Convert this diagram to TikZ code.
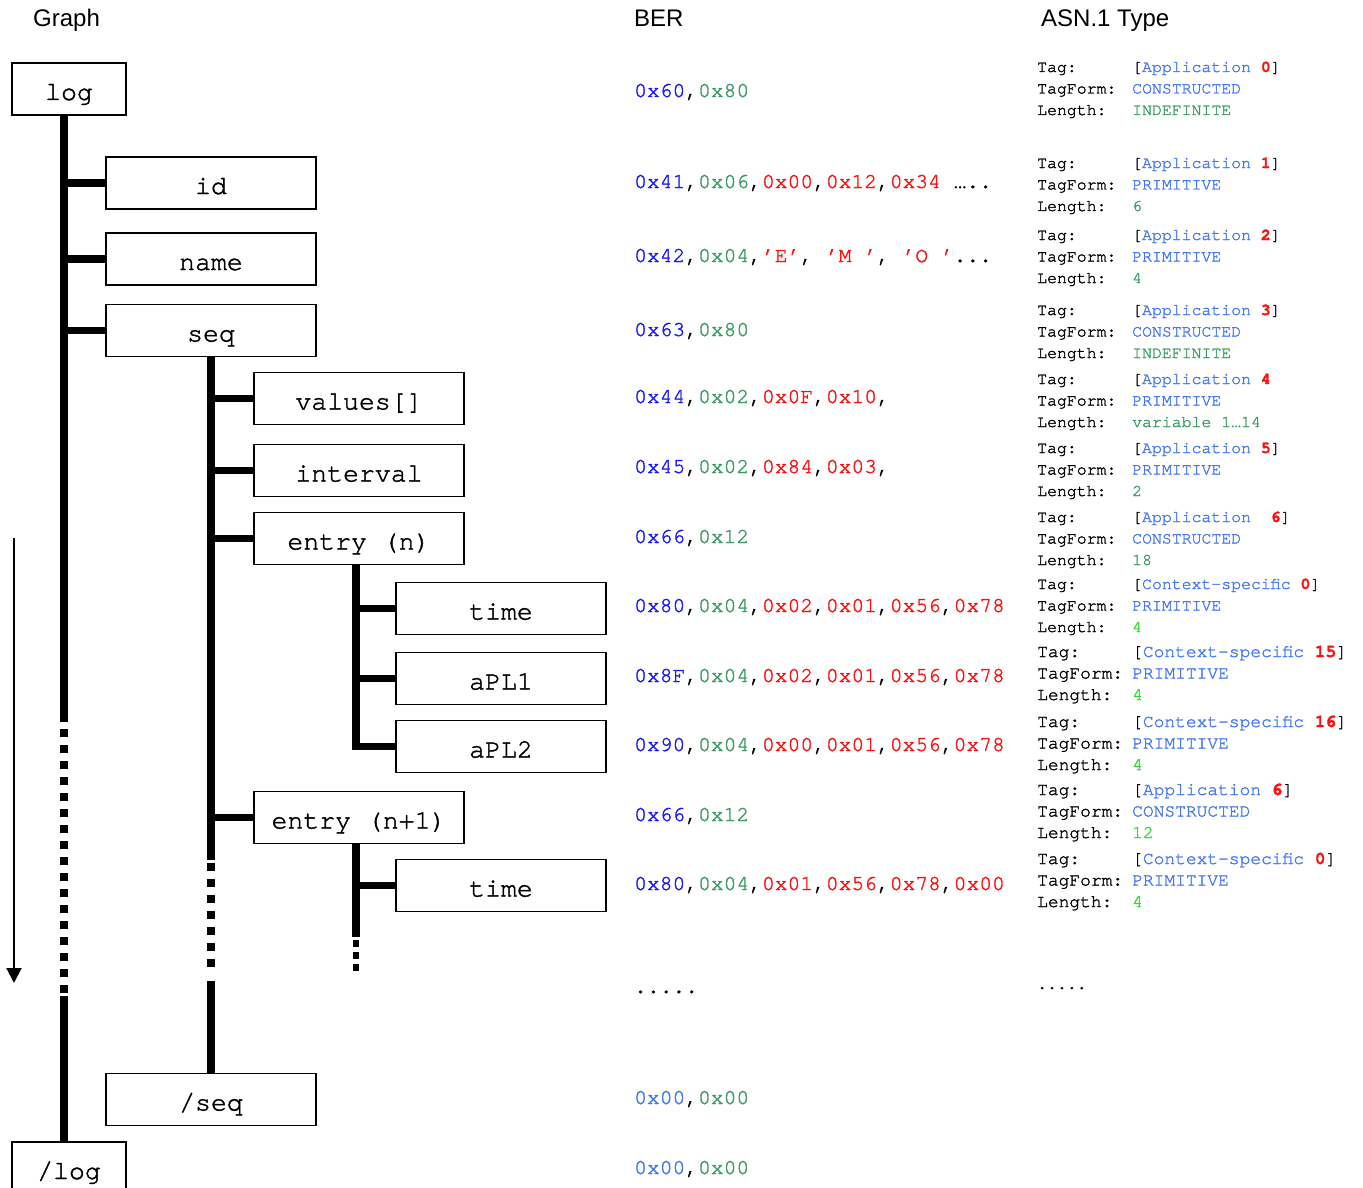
\documentclass[tikz,border=0pt]{standalone}
\usepackage{fontspec}
\setmainfont{Liberation Sans}
\newfontfamily\mono[FakeBold=1.6]{TeX Gyre Cursor}
\usetikzlibrary{arrows.meta}
\definecolor{bblue}{RGB}{25,25,250}
\definecolor{lblue}{RGB}{60,120,240}
\definecolor{sgreen}{RGB}{60,155,100}
\definecolor{bgreen}{RGB}{40,220,40}
\definecolor{vred}{RGB}{255,15,15}
\definecolor{ablue}{RGB}{70,120,245}
\newcommand\berT[1]{\textcolor{bblue}{#1}}
\newcommand\berTl[1]{\textcolor{lblue}{#1}}
\newcommand\berL[1]{\textcolor{sgreen}{#1}}
\newcommand\berV[1]{\textcolor{vred}{#1}}
\newcommand\asnB[1]{\textcolor{ablue}{#1}}
\newcommand\asnR[1]{\textcolor{vred}{\bfseries #1}}
\newcommand\asnSmall{\mono\fontsize{16.5}{19}\selectfont}
\newcommand\asnBig{\mono\fontsize{17.9}{20}\selectfont}
% #1 name, #2 first baseline, #3 tag value, #4 form, #5 length, #6 font
\newcommand\asnblock[6]{%
  \node[asn, font=#6] (#1t) at (1037,#2) {Tag:};
  \node[asn, font=#6] (#1tv) at (1132,#2) {#3};
  \node[asn, font=#6] (#1f) at (1037,{#2+21.5}) {TagForm:};
  \node[asn, font=#6] (#1fv) at (1132,{#2+21.5}) {\asnB{#4}};
  \node[asn, font=#6] (#1l) at (1037,{#2+43}) {Length:};
  \node[asn, font=#6] (#1lv) at (1132,{#2+43}) {#5};
}
\begin{document}
\begin{tikzpicture}[x=1pt,y=-1pt,
  box/.style={draw, line width=1.5pt, minimum width=210pt, minimum height=52pt,
    inner sep=0pt, font=\mono\fontsize{26.5}{30}\selectfont, text height=24pt, text depth=2pt},
  sbox/.style={box, minimum width=114pt},
  trunk/.style={line width=7.5pt, line cap=butt},
  branch/.style={line width=7.5pt, line cap=butt},
  dotline/.style={line width=7.5pt, line cap=butt, dash pattern=on 7.5pt off 8.5pt},
  sdotline/.style={line width=6.5pt, line cap=butt, dash pattern=on 6.5pt off 5.5pt},
  ber/.style={anchor=base west, inner sep=0pt, font=\mono\fontsize{21.3}{25}\selectfont},
  asn/.style={anchor=base west, inner sep=0pt},
  head/.style={anchor=base west, inner sep=0pt, font=\fontsize{24}{28}\selectfont}]
\useasboundingbox (0,0) rectangle (1363,1188);
\clip (0,0) rectangle (1363,1188);
\fill[white] (0,0) rectangle (1363,1188);

% headers
\node[head] (hg) at (33,27) {Graph};
\node[head] (hb) at (634,27) {BER};
\node[head] (ha) at (1041,27) {ASN.1 Type};

% graph nodes
\node[sbox] (log) at (69,89) {log};
\node[box] (id) at (211,183) {id};
\node[box] (name) at (211,259) {name};
\node[box] (seq) at (211,330.5) {seq};
\node[box] (values) at (359,398.5) {values[]};
\node[box] (interval) at (359,470.5) {interval};
\node[box] (entryn) at (359,538.5) {entry (n)};
\node[box] (time1) at (501,608.5) {time};
\node[box] (apl1) at (501,678.5) {aPL1};
\node[box] (apl2) at (501,746.5) {aPL2};
\node[box] (entryn1) at (359,817.5) {entry (n+1)};
\node[box] (time2) at (501,885.5) {time};
\node[box] (endseq) at (211,1099.5) {/seq};
\node[sbox] (endlog) at (69,1168) {/log};

% log trunk
\coordinate (lt0) at ([xshift=-5pt]log.south);
\coordinate (lt1) at (lt0 |- 0,722);
\coordinate (lt2) at (lt0 |- 0,729);
\coordinate (lt3) at (lt0 |- 0,993);
\coordinate (lt4) at (lt0 |- 0,996);
\draw[trunk] (lt0) -- (lt1);
\draw[dotline] (lt2) -- (lt3);
\draw[trunk] (lt4) -- (lt0 |- endlog.north);
\draw[branch] (lt0 |- id.west) -- (id.west);
\draw[branch] (lt0 |- name.west) -- (name.west);
\draw[branch] (lt0 |- seq.west) -- (seq.west);

% seq trunk
\coordinate (st1) at (seq.south |- 0,860);
\coordinate (st2) at (seq.south |- 0,863);
\coordinate (st3) at (seq.south |- 0,970);
\coordinate (st4) at (seq.south |- 0,981);
\draw[trunk] (seq.south) -- (st1);
\draw[dotline] (st2) -- (st3);
\draw[trunk] (st4) -- (endseq.north);
\draw[branch] (st1 |- values.west) -- (values.west);
\draw[branch] (st1 |- interval.west) -- (interval.west);
\draw[branch] (st1 |- entryn.west) -- (entryn.west);
\draw[branch] (st1 |- entryn1.west) -- (entryn1.west);

% entry (n) trunk
\coordinate (et0) at ([xshift=-3pt]entryn.south);
\draw[trunk, line join=miter] (et0) |- (apl2.west);
\draw[branch] (et0 |- time1.west) -- (time1.west);
\draw[branch] (et0 |- apl1.west) -- (apl1.west);

% entry (n+1) trunk
\coordinate (ft0) at ([xshift=-3pt]entryn1.south);
\coordinate (ft1) at (ft0 |- 0,937);
\coordinate (ft2) at (ft0 |- 0,940);
\coordinate (ft3) at (ft0 |- 0,971);
\draw[trunk] (ft0) -- (ft1);
\draw[sdotline] (ft2) -- (ft3);
\draw[branch] (ft0 |- time2.west) -- (time2.west);

% time arrow
\coordinate (arrS) at (14,538);
\coordinate (arrE) at (14,983);
\draw[line width=2pt, -{Triangle[width=15pt,length=15pt]}] (arrS) -- (arrE);

% BER column
\node[ber] (b1) at (634,97) {\berT{0x60},\berL{0x80}};
\node[ber] (b2) at (634,188) {\berT{0x41},\berL{0x06},\berV{0x00},\berV{0x12},\berV{0x34} …..};
\node[ber] (b3) at (634,262) {\berT{0x42},\berL{0x04},\berV{’E’}, \berV{’M ’}, \berV{’O ’}...};
\node[ber] (b4) at (634,336) {\berT{0x63},\berL{0x80}};
\node[ber] (b5) at (634,403) {\berT{0x44},\berL{0x02},\berV{0x0F},\berV{0x10},};
\node[ber] (b6) at (634,473) {\berT{0x45},\berL{0x02},\berV{0x84},\berV{0x03},};
\node[ber] (b7) at (634,543) {\berT{0x66},\berL{0x12}};
\node[ber] (b8) at (634,612) {\berT{0x80},\berL{0x04},\berV{0x02},\berV{0x01},\berV{0x56},\berV{0x78}};
\node[ber] (b9) at (634,682) {\berT{0x8F},\berL{0x04},\berV{0x02},\berV{0x01},\berV{0x56},\berV{0x78}};
\node[ber] (b10) at (634,751) {\berT{0x90},\berL{0x04},\berV{0x00},\berV{0x01},\berV{0x56},\berV{0x78}};
\node[ber] (b11) at (634,821) {\berT{0x66},\berL{0x12}};
\node[ber] (b12) at (634,890) {\berT{0x80},\berL{0x04},\berV{0x01},\berV{0x56},\berV{0x78},\berV{0x00}};
\node[ber] (b13) at (634,993) {.....};
\node[ber] (b14) at (634,1104) {\berTl{0x00},\berL{0x00}};
\node[ber] (b15) at (634,1174) {\berTl{0x00},\berL{0x00}};

% ASN.1 column
\asnblock{a1}{72}{[\asnB{Application} \asnR{0}]}{CONSTRUCTED}{\textcolor{sgreen}{INDEFINITE}}{\asnSmall}
\asnblock{a2}{168}{[\asnB{Application} \asnR{1}]}{PRIMITIVE}{\textcolor{sgreen}{6}}{\asnSmall}
\asnblock{a3}{240}{[\asnB{Application} \asnR{2}]}{PRIMITIVE}{\textcolor{sgreen}{4}}{\asnSmall}
\asnblock{a4}{315}{[\asnB{Application} \asnR{3}]}{CONSTRUCTED}{\textcolor{sgreen}{INDEFINITE}}{\asnSmall}
\asnblock{a5}{384}{[\asnB{Application} \asnR{4}}{PRIMITIVE}{\textcolor{sgreen}{variable 1…14}}{\asnSmall}
\asnblock{a6}{453}{[\asnB{Application} \asnR{5}]}{PRIMITIVE}{\textcolor{sgreen}{2}}{\asnSmall}
\asnblock{a7}{522}{[\asnB{Application}\ \ \asnR{6}]}{CONSTRUCTED}{\textcolor{sgreen}{18}}{\asnSmall}
\asnblock{a8}{589}{[\asnB{Context-specific} \asnR{0}]}{PRIMITIVE}{\textcolor{bgreen}{4}}{\asnSmall}
\asnblock{a9}{657}{[\asnB{Context-specific} \asnR{15}]}{PRIMITIVE}{\textcolor{bgreen}{4}}{\asnBig}
\asnblock{a10}{727}{[\asnB{Context-specific} \asnR{16}]}{PRIMITIVE}{\textcolor{bgreen}{4}}{\asnBig}
\asnblock{a11}{795}{[\asnB{Application} \asnR{6}]}{CONSTRUCTED}{\textcolor{bgreen}{12}}{\asnBig}
\asnblock{a12}{864}{[\asnB{Context-specific} \asnR{0}]}{PRIMITIVE}{\textcolor{bgreen}{4}}{\asnBig}
\node[asn, font=\asnSmall] (adots) at (1037,989) {.....};
\end{tikzpicture}
\end{document}
